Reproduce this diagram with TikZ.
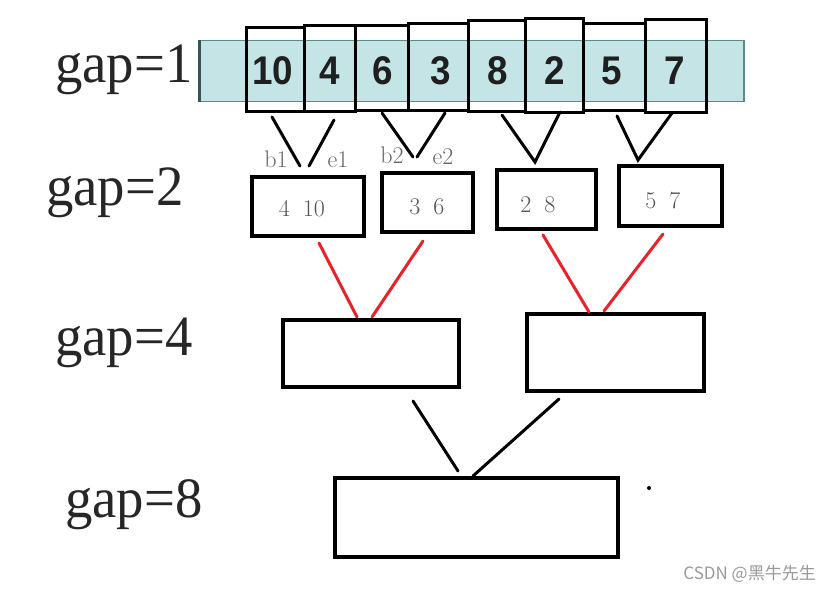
\documentclass[tikz,border=0pt]{standalone}
\usepackage{fontspec}
\newfontfamily\numfont{Liberation Sans}
\newfontfamily\gapfont{Liberation Serif}
\newfontfamily\cjkfont{Noto Sans CJK SC}
\definecolor{stripfill}{HTML}{C4E4E6}
\definecolor{stripedge}{HTML}{5F8A8C}
\definecolor{linkred}{HTML}{E8212A}
\definecolor{softgray}{HTML}{555555}
\definecolor{markgray}{HTML}{666666}
\definecolor{wmgray}{HTML}{9A9A9A}
\tikzset{
  gaplabel/.style={anchor=base west, inner sep=0pt, font=\gapfont\fontsize{57}{57}\selectfont, text=black!85},
  strip/.style={fill=stripfill, draw=stripedge, line width=1pt, inner sep=0pt},
  numbox/.style={draw=black, line width=3pt, inner sep=0pt},
  numtext/.style={inner sep=0pt, font=\numfont\bfseries\fontsize{40}{40}\selectfont, text=black!88},
  mergebox/.style={draw=black, line width=3.5pt, inner sep=0pt, fill=white},
  pairtext/.style={inner sep=0pt, font=\fontsize{24}{24}\selectfont, text=softgray},
  marktext/.style={anchor=base, inner sep=0pt, font=\fontsize{24}{24}\selectfont, text=markgray},
  blackline/.style={draw=black, line width=3pt, line cap=round},
  redline/.style={draw=linkred, line width=3pt, line cap=round},
  watermark/.style={anchor=east, inner sep=0pt, font=\cjkfont\fontsize{17}{17}\selectfont, text=wmgray}
}
\begin{document}
\begin{tikzpicture}[x=1pt,y=-1pt]
\useasboundingbox (0,0) rectangle (832,595);
\fill[white] (0,0) rectangle (832,595);

% gap labels
\node[gaplabel] (g1) at (55,82) {\scalebox{0.96}[1]{gap=1}};
\node[gaplabel] (g2) at (46,205) {\scalebox{0.96}[1]{gap=2}};
\node[gaplabel] (g4) at (55,355) {\scalebox{0.96}[1]{gap=4}};
\node[gaplabel] (g8) at (65,517) {\scalebox{0.96}[1]{gap=8}};

% teal strip
\node[strip, minimum width=543pt, minimum height=61pt] (strip) at (471.5,70.5) {};
\draw[stripedge!60!black, line width=2.5pt] (strip.north west) -- (strip.south west);
\draw[stripedge, line width=2pt] (strip.north east) -- (strip.south east);

% number boxes
\node[numbox, minimum width=58pt, minimum height=84pt] (n1) at (275,69) {};
\node[numbox, minimum width=51pt, minimum height=86pt] (n2) at (329.5,68) {};
\node[numbox, minimum width=53pt, minimum height=85pt] (n3) at (381.5,67.5) {};
\node[numbox, minimum width=60pt, minimum height=87pt] (n4) at (438,66.5) {};
\node[numbox, minimum width=57pt, minimum height=91pt] (n5) at (496.5,65.5) {};
\node[numbox, minimum width=58pt, minimum height=94pt] (n6) at (554,65) {};
\node[numbox, minimum width=62pt, minimum height=87pt] (n7) at (614,66.5) {};
\node[numbox, minimum width=61pt, minimum height=93pt] (n8) at (675.5,65.5) {};

\node[numtext] (t1) at (273,71) {\scalebox{0.92}[1]{10}};
\node[numtext] (t2) at (330,71) {\scalebox{0.92}[1]{4}};
\node[numtext] (t3) at (383,71) {\scalebox{0.92}[1]{6}};
\node[numtext] (t4) at (441,71) {\scalebox{0.92}[1]{3}};
\node[numtext] (t5) at (498,71) {\scalebox{0.92}[1]{8}};
\node[numtext] (t6) at (555,71) {\scalebox{0.92}[1]{2}};
\node[numtext] (t7) at (612,71) {\scalebox{0.92}[1]{5}};
\node[numtext] (t8) at (675,71) {\scalebox{0.92}[1]{7}};

% gap=2 boxes
\node[mergebox, minimum width=112pt, minimum height=59pt] (p1) at (308,206.5) {};
\node[mergebox, minimum width=91pt, minimum height=59pt] (p2) at (427.5,202.5) {};
\node[mergebox, minimum width=99pt, minimum height=59pt] (p3) at (546.5,199.5) {};
\node[mergebox, minimum width=103pt, minimum height=60pt] (p4) at (670.5,196) {};
\node[pairtext] (pt1) at (302,209) {4\hspace{13pt}10};
\node[pairtext] (pt2) at (427,207) {3\hspace{13pt}6};
\node[pairtext] (pt3) at (538,204.5) {2\hspace{13pt}8};
\node[pairtext] (pt4) at (663,201) {5\hspace{13pt}7};

% markers
\node[marktext] (b1) at (276,167) {b1};
\node[marktext] (e1) at (338,167) {e1};
\node[marktext] (b2) at (392,163) {b2};
\node[marktext] (e2) at (443,164) {e2};

% connector end points, level 1 -> 2
\coordinate (a1) at (272,117);
\coordinate (a1e) at (300,166);
\coordinate (a2) at (334,120);
\coordinate (a2e) at (309,166);
\coordinate (a3) at (382,113);
\coordinate (a3e) at (413,157);
\coordinate (a4) at (445,113);
\coordinate (a4e) at (417,157);
\coordinate (a5) at (502,115);
\coordinate (a56) at (535,162);
\coordinate (a6) at (560,112);
\coordinate (a7) at (617,116);
\coordinate (a78) at (638,160);
\coordinate (a8) at (672,113);
\draw[blackline] (a1) -- (a1e);
\draw[blackline] (a2) -- (a2e);
\draw[blackline] (a3) -- (a3e);
\draw[blackline] (a4) -- (a4e);
\draw[blackline] (a5) -- (a56) -- (a6);
\draw[blackline] (a7) -- (a78) -- (a8);

% gap=4 boxes
\node[mergebox, minimum width=176pt, minimum height=67pt] (q1) at (371,353.5) {};
\node[mergebox, minimum width=177pt, minimum height=77pt] (q2) at (615.5,352.5) {};

% red connectors
\coordinate (r1) at (319,243);
\coordinate (r1e) at (357,317);
\coordinate (r2) at (423,241);
\coordinate (r2e) at (372,317);
\coordinate (r3) at (543,235);
\coordinate (r3e) at (589,312);
\coordinate (r4) at (663,234);
\coordinate (r4e) at (604,311);
\draw[redline] (r1) -- (r1e);
\draw[redline] (r2) -- (r2e);
\draw[redline] (r3) -- (r3e);
\draw[redline] (r4) -- (r4e);

% gap=8 box
\node[mergebox, minimum width=283pt, minimum height=79pt] (z) at (476.5,517.5) {};
\coordinate (k1) at (413,401);
\coordinate (k1e) at (458,471);
\coordinate (k2) at (559,399);
\coordinate (k2e) at (473,476);
\draw[blackline] (k1) -- (k1e);
\draw[blackline] (k2) -- (k2e);

% stray dot
\fill[black] (649,488) circle (2pt);

% watermark
\node[watermark] (wm) at (816,574) {CSDN @黑牛先生};
\end{tikzpicture}
\end{document}
